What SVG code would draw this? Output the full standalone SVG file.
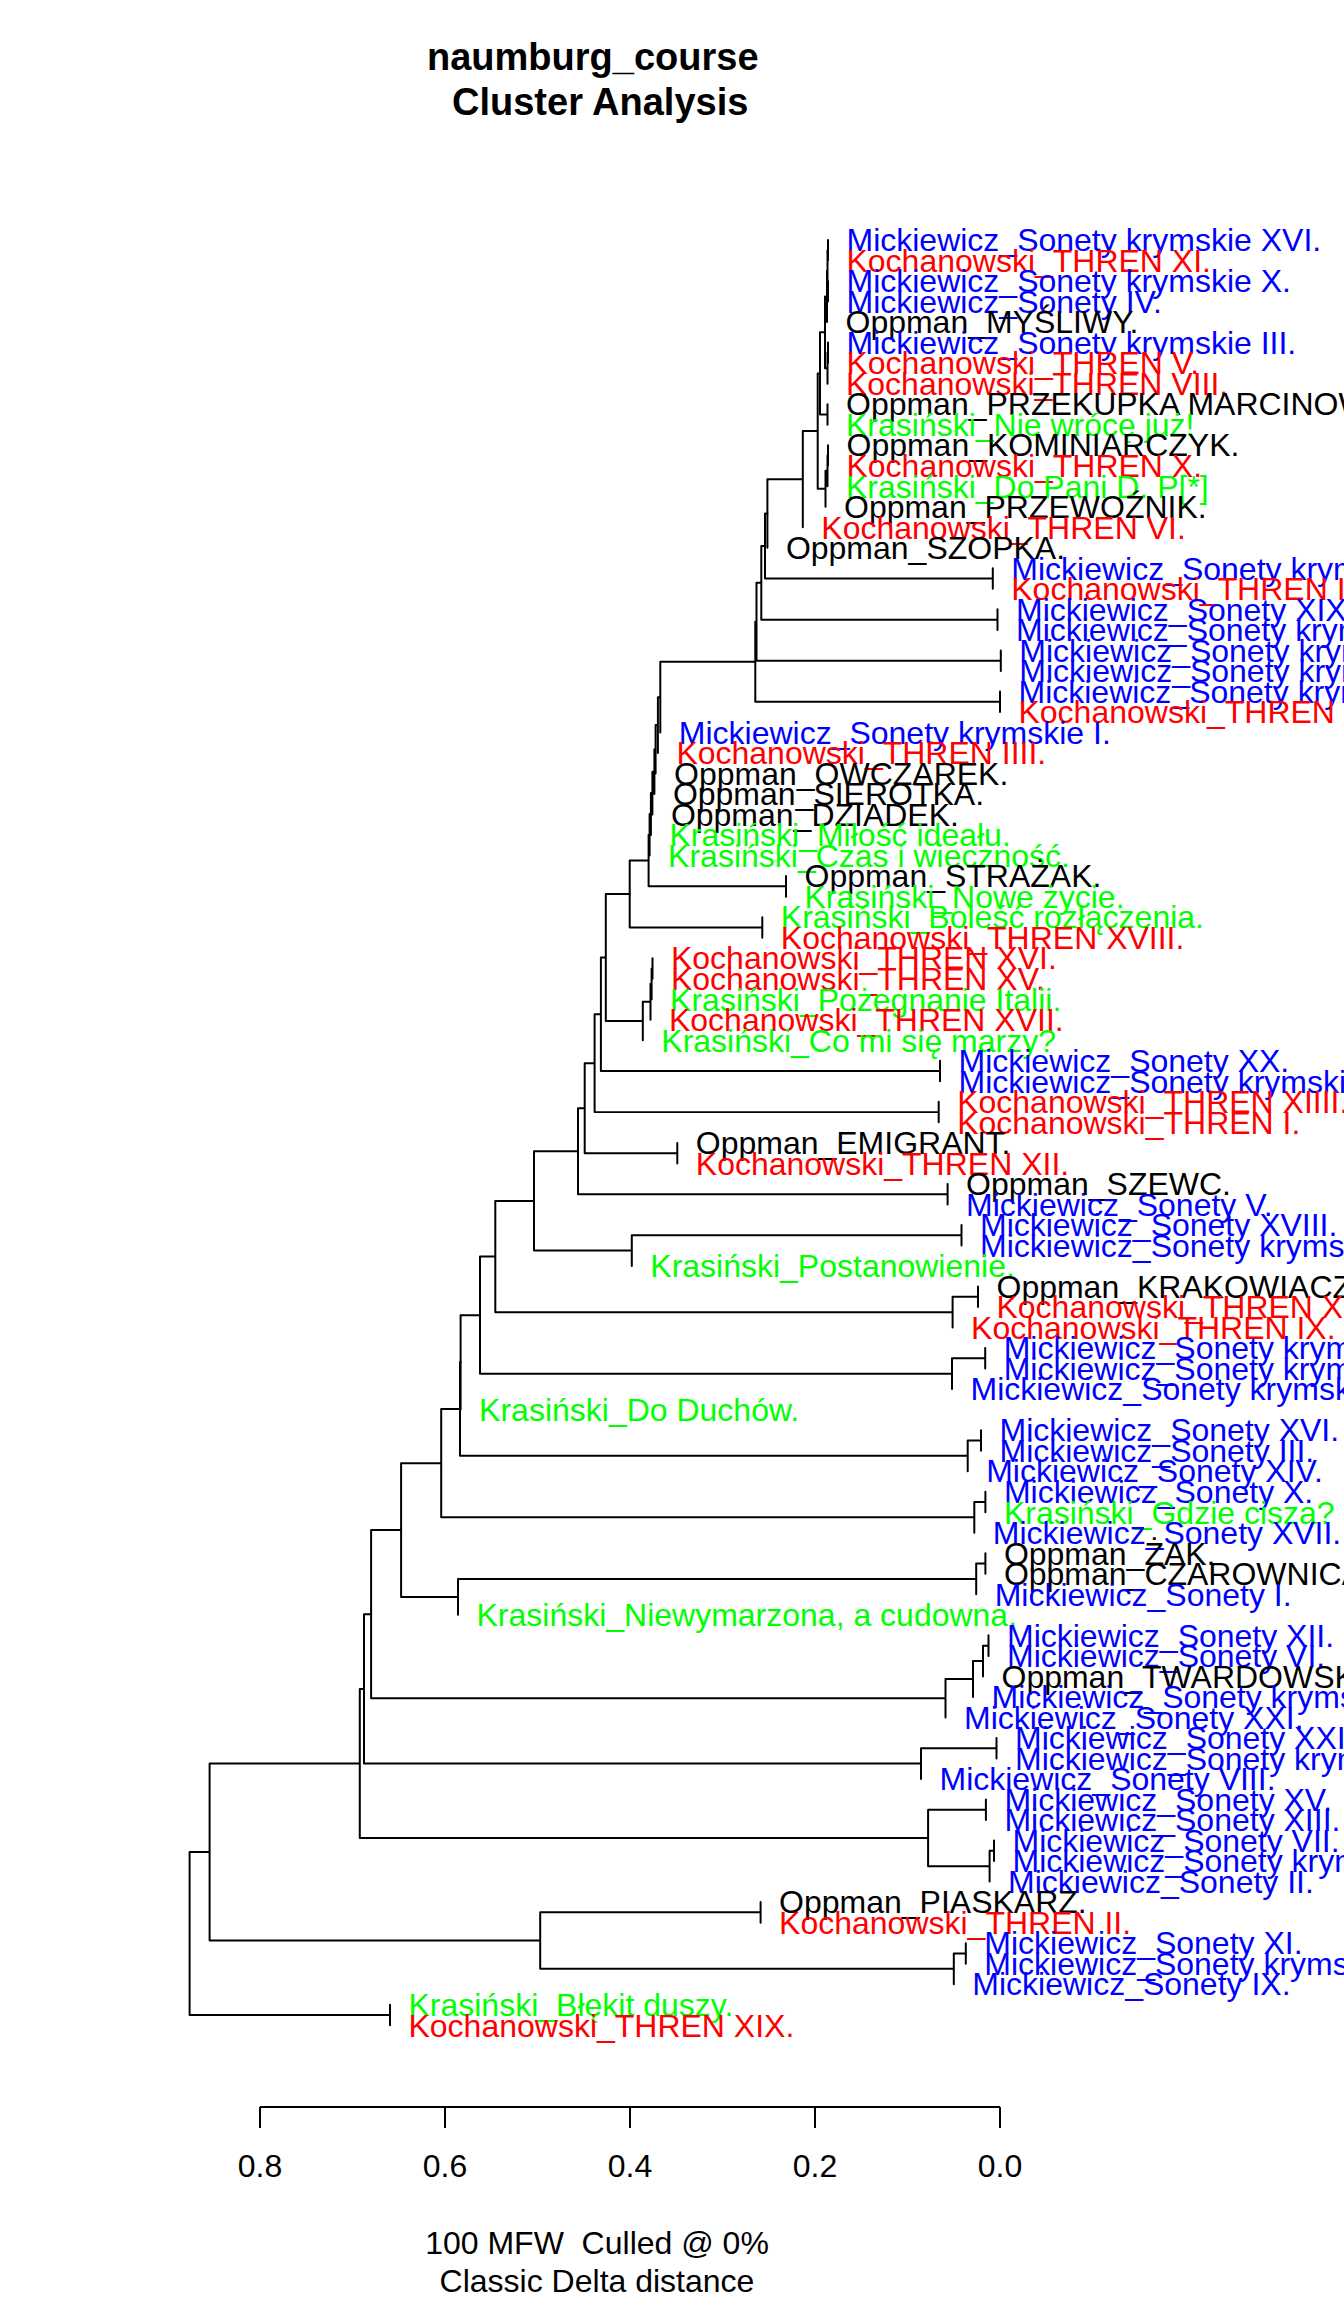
<svg xmlns="http://www.w3.org/2000/svg" width="1344" height="2304" viewBox="0 0 1344 2304">
<style>
text{font-family:"Liberation Sans",Arial,Helvetica,sans-serif;font-size:32px}
.title{font-weight:bold;font-size:38px}
.mk{fill:#0000FF}.ko{fill:#FF0000}.kr{fill:#00FF00}.op{fill:#000000}
.edge{fill:none;stroke:#000;stroke-width:2;stroke-linecap:round}
.ax{fill:none;stroke:#000;stroke-width:2}
</style>
<rect width="1344" height="2304" fill="#fff"/>
<g id="title">
<text class="title" x="427" y="70">naumburg_course</text>
<text class="title" x="452" y="115">Cluster Analysis</text>
</g>
<g id="tree" transform="matrix(1 0 0 0.99854 0 0.35)">
<g id="connectors">
<path class="edge" d="M828,240V260.55 M828,281.1V301.65 M827.5,250.3V291.4 M827.5,250.3H828 M827.5,291.4H828 M827,270.85V322.2 M827,270.85H827.5 M828,342.75V363.3 M827.5,353V383.85 M827.5,353H828 M825,296.5V368.4 M825,296.5H827 M825,368.4H827.5 M827.5,404.4V424.95 M820,332.5V414.7 M820,332.5H825 M820,414.7H827.5 M828,445.5V466.05 M827.5,455.8V486.6 M827.5,455.8H828 M825.5,471.2V507.15 M825.5,471.2H827.5 M817.7,373.6V489.2 M817.7,373.6H820 M817.7,489.2H825.5 M802.8,431.4V527.7 M802.8,431.4H817.7 M767.4,479.55V548.25 M767.4,479.55H802.8"/>
<path class="edge" d="M992.8,568.8V589.35 M765,513.9V579.1 M765,513.9H767.4 M765,579.1H992.8 M997.5,609.9V630.45 M761.3,546.5V620.2 M761.3,546.5H765 M761.3,620.2H997.5 M1000.8,651V671.55 M756.5,583.35V661.3 M756.5,583.35H761.3 M756.5,661.3H1000.8 M1000,692.1V712.65 M755.3,622.3V702.4 M755.3,622.3H756.5 M755.3,702.4H1000"/>
<path class="edge" d="M660.3,662.35V733.2 M660.3,662.35H755.3 M657.9,697.8V753.75 M657.9,697.8H660.3 M655.6,725.8V774.3 M655.6,725.8H657.9 M654.4,750.05V794.85 M654.4,750.05H655.6 M652.4,772.45V815.4 M652.4,772.45H654.4 M650.9,793.9V835.95 M650.9,793.9H652.4 M649.6,814.9V856.5 M649.6,814.9H650.9 M786,877.05V897.6 M648.6,835.7V887.3 M648.6,835.7H649.6 M648.6,887.3H786 M762.3,918.15V938.7 M629.7,861.5V928.4 M629.7,861.5H648.6 M629.7,928.4H762.3"/>
<path class="edge" d="M652.5,959.25V979.8 M651.6,969.5V1000.35 M651.6,969.5H652.5 M650.5,984.9V1020.9 M650.5,984.9H651.6 M642.8,1002.9V1041.45 M642.8,1002.9H650.5 M605.8,894.95V1022.2 M605.8,894.95H629.7 M605.8,1022.2H642.8 M940,1062V1082.55 M600.9,958.6V1072.3 M600.9,958.6H605.8 M600.9,1072.3H940 M938.7,1103.1V1123.65 M594.6,1015.45V1113.4 M594.6,1015.45H600.9 M594.6,1113.4H938.7 M677.3,1144.2V1164.75 M584.7,1064.4V1154.5 M584.7,1064.4H594.6 M584.7,1154.5H677.3 M947.6,1185.3V1205.85 M578,1109.45V1195.6 M578,1109.45H584.7 M578,1195.6H947.6"/>
<path class="edge" d="M961.5,1226.4V1246.95 M631.8,1236.7V1267.5 M631.8,1236.7H961.5 M534,1152.5V1252.1 M534,1152.5H578 M534,1252.1H631.8 M978,1288.05V1308.6 M952.6,1298.3V1329.15 M952.6,1298.3H978 M495.3,1202.3V1313.7 M495.3,1202.3H534 M495.3,1313.7H952.6 M985.2,1349.7V1370.25 M952,1360V1390.8 M952,1360H985.2 M480,1258V1375.4 M480,1258H495.3 M480,1375.4H952 M460.6,1316.7V1411.35 M460.6,1316.7H480"/>
<path class="edge" d="M981,1431.9V1452.45 M967.7,1442.2V1473 M967.7,1442.2H981 M460,1364V1457.6 M460,1364H460.6 M460,1457.6H967.7 M985.4,1493.55V1514.1 M974.3,1503.8V1534.65 M974.3,1503.8H985.4 M441.2,1410.8V1519.2 M441.2,1410.8H460 M441.2,1519.2H974.3 M985.4,1555.2V1575.75 M976.2,1565.5V1596.3 M976.2,1565.5H985.4 M458,1580.9V1616.85 M458,1580.9H976.2 M401.1,1465V1598.9 M401.1,1465H441.2 M401.1,1598.9H458"/>
<path class="edge" d="M988.5,1637.4V1657.95 M983,1647.7V1678.5 M983,1647.7H988.5 M973,1663.1V1699.05 M973,1663.1H983 M945.5,1681.1V1719.6 M945.5,1681.1H973 M371.1,1531.95V1700.35 M371.1,1531.95H401.1 M371.1,1700.35H945.5 M996.5,1740.15V1760.7 M921,1750.4V1781.25 M921,1750.4H996.5 M364,1616.15V1765.8 M364,1616.15H371.1 M364,1765.8H921"/>
<path class="edge" d="M985.9,1801.8V1822.35 M994,1842.9V1863.45 M989.6,1853.2V1884 M989.6,1853.2H994 M928.1,1812.1V1868.6 M928.1,1812.1H985.9 M928.1,1868.6H989.6 M359.8,1691V1840.35 M359.8,1691H364 M359.8,1840.35H928.1 M760.6,1904.55V1925.1 M965.8,1945.65V1966.2 M953.8,1955.9V1986.75 M953.8,1955.9H965.8 M540.2,1914.8V1971.3 M540.2,1914.8H760.6 M540.2,1971.3H953.8 M209.6,1765.7V1943.05 M209.6,1765.7H359.8 M209.6,1943.05H540.2 M390,2007.3V2027.85 M189.6,1854.4V2017.6 M189.6,1854.4H209.6 M189.6,2017.6H390"/>
</g>
<g id="leaves">
<g id="leaf01"><text class="mk" x="846.5" y="251.3">Mickiewicz_Sonety krymskie XVI.</text></g>
<g id="leaf02"><text class="ko" x="846.5" y="271.85">Kochanowski_THREN XI.</text></g>
<g id="leaf03"><text class="mk" x="846.5" y="292.4">Mickiewicz_Sonety krymskie X.</text></g>
<g id="leaf04"><text class="mk" x="846.5" y="312.95">Mickiewicz_Sonety IV.</text></g>
<g id="leaf05"><text class="op" x="845.5" y="333.5">Oppman_MYŚLIWY.</text></g>
<g id="leaf06"><text class="mk" x="846.5" y="354.05">Mickiewicz_Sonety krymskie III.</text></g>
<g id="leaf07"><text class="ko" x="846.5" y="374.6">Kochanowski_THREN V.</text></g>
<g id="leaf08"><text class="ko" x="846" y="395.15">Kochanowski_THREN VIII.</text></g>
<g id="leaf09"><text class="op" x="846" y="415.7">Oppman_PRZEKUPKA MARCINOWA.</text></g>
<g id="leaf10"><text class="kr" x="846" y="436.25">Krasiński_Nie wrócę już!</text></g>
<g id="leaf11"><text class="op" x="846.5" y="456.8">Oppman_KOMINIARCZYK.</text></g>
<g id="leaf12"><text class="ko" x="846.5" y="477.35">Kochanowski_THREN X.</text></g>
<g id="leaf13"><text class="kr" x="846" y="497.9">Krasiński_Do Pani D. P[*]</text></g>
<g id="leaf14"><text class="op" x="844" y="518.45">Oppman_PRZEWOŹNIK.</text></g>
<g id="leaf15"><text class="ko" x="821.3" y="539">Kochanowski_THREN VI.</text></g>
<g id="leaf16"><text class="op" x="785.9" y="559.55">Oppman_SZOPKA.</text></g>
<g id="leaf17"><text class="mk" x="1011.3" y="580.1">Mickiewicz_Sonety krymskie II.</text></g>
<g id="leaf18"><text class="ko" x="1011.3" y="600.65">Kochanowski_THREN III.</text></g>
<g id="leaf19"><text class="mk" x="1016" y="621.2">Mickiewicz_Sonety XIX.</text></g>
<g id="leaf20"><text class="mk" x="1016" y="641.75">Mickiewicz_Sonety krymskie IV.</text></g>
<g id="leaf21"><text class="mk" x="1019.3" y="662.3">Mickiewicz_Sonety krymskie V.</text></g>
<g id="leaf22"><text class="mk" x="1019.3" y="682.85">Mickiewicz_Sonety krymskie VI.</text></g>
<g id="leaf23"><text class="mk" x="1018.5" y="703.4">Mickiewicz_Sonety krymskie VII.</text></g>
<g id="leaf24"><text class="ko" x="1018.5" y="723.95">Kochanowski_THREN VII.</text></g>
<g id="leaf25"><text class="mk" x="678.8" y="744.5">Mickiewicz_Sonety krymskie I.</text></g>
<g id="leaf26"><text class="ko" x="676.4" y="765.05">Kochanowski_THREN IIII.</text></g>
<g id="leaf27"><text class="op" x="674.1" y="785.6">Oppman_OWCZAREK.</text></g>
<g id="leaf28"><text class="op" x="672.9" y="806.15">Oppman_SIEROTKA.</text></g>
<g id="leaf29"><text class="op" x="670.9" y="826.7">Oppman_DZIADEK.</text></g>
<g id="leaf30"><text class="kr" x="669.4" y="847.25">Krasiński_Miłość ideału.</text></g>
<g id="leaf31"><text class="kr" x="668.1" y="867.8">Krasiński_Czas i wieczność.</text></g>
<g id="leaf32"><text class="op" x="804.5" y="888.35">Oppman_STRAŻAK.</text></g>
<g id="leaf33"><text class="kr" x="804.5" y="908.9">Krasiński_Nowe życie.</text></g>
<g id="leaf34"><text class="kr" x="780.8" y="929.45">Krasiński_Boleść rozłączenia.</text></g>
<g id="leaf35"><text class="ko" x="780.8" y="950">Kochanowski_THREN XVIII.</text></g>
<g id="leaf36"><text class="ko" x="671" y="970.55">Kochanowski_THREN XVI.</text></g>
<g id="leaf37"><text class="ko" x="671" y="991.1">Kochanowski_THREN XV.</text></g>
<g id="leaf38"><text class="kr" x="670.1" y="1011.65">Krasiński_Pożegnanie Italii.</text></g>
<g id="leaf39"><text class="ko" x="669" y="1032.2">Kochanowski_THREN XVII.</text></g>
<g id="leaf40"><text class="kr" x="661.3" y="1052.75">Krasiński_Co mi się marzy?</text></g>
<g id="leaf41"><text class="mk" x="958.5" y="1073.3">Mickiewicz_Sonety XX.</text></g>
<g id="leaf42"><text class="mk" x="958.5" y="1093.85">Mickiewicz_Sonety krymskie VIII.</text></g>
<g id="leaf43"><text class="ko" x="957.2" y="1114.4">Kochanowski_THREN XIIII.</text></g>
<g id="leaf44"><text class="ko" x="957.2" y="1134.95">Kochanowski_THREN I.</text></g>
<g id="leaf45"><text class="op" x="695.8" y="1155.5">Oppman_EMIGRANT.</text></g>
<g id="leaf46"><text class="ko" x="695.8" y="1176.05">Kochanowski_THREN XII.</text></g>
<g id="leaf47"><text class="op" x="966.1" y="1196.6">Oppman_SZEWC.</text></g>
<g id="leaf48"><text class="mk" x="966.1" y="1217.15">Mickiewicz_Sonety V.</text></g>
<g id="leaf49"><text class="mk" x="980" y="1237.7">Mickiewicz_Sonety XVIII.</text></g>
<g id="leaf50"><text class="mk" x="980" y="1258.25">Mickiewicz_Sonety krymskie IX.</text></g>
<g id="leaf51"><text class="kr" x="650.3" y="1278.8">Krasiński_Postanowienie.</text></g>
<g id="leaf52"><text class="op" x="996.5" y="1299.35">Oppman_KRAKOWIACZEK.</text></g>
<g id="leaf53"><text class="ko" x="996.5" y="1319.9">Kochanowski_THREN XIII.</text></g>
<g id="leaf54"><text class="ko" x="971.1" y="1340.45">Kochanowski_THREN IX.</text></g>
<g id="leaf55"><text class="mk" x="1003.7" y="1361">Mickiewicz_Sonety krymskie XI.</text></g>
<g id="leaf56"><text class="mk" x="1003.7" y="1381.55">Mickiewicz_Sonety krymskie XII.</text></g>
<g id="leaf57"><text class="mk" x="970.5" y="1402.1">Mickiewicz_Sonety krymskie XIII.</text></g>
<g id="leaf58"><text class="kr" x="479.1" y="1422.65">Krasiński_Do Duchów.</text></g>
<g id="leaf59"><text class="mk" x="999.5" y="1443.2">Mickiewicz_Sonety XVI.</text></g>
<g id="leaf60"><text class="mk" x="999.5" y="1463.75">Mickiewicz_Sonety III.</text></g>
<g id="leaf61"><text class="mk" x="986.2" y="1484.3">Mickiewicz_Sonety XIV.</text></g>
<g id="leaf62"><text class="mk" x="1003.9" y="1504.85">Mickiewicz_Sonety X.</text></g>
<g id="leaf63"><text class="kr" x="1003.9" y="1525.4">Krasiński_Gdzie cisza?</text></g>
<g id="leaf64"><text class="mk" x="992.8" y="1545.95">Mickiewicz_Sonety XVII.</text></g>
<g id="leaf65"><text class="op" x="1003.9" y="1566.5">Oppman_ŻAK.</text></g>
<g id="leaf66"><text class="op" x="1003.9" y="1587.05">Oppman_CZAROWNICA.</text></g>
<g id="leaf67"><text class="mk" x="994.7" y="1607.6">Mickiewicz_Sonety I.</text></g>
<g id="leaf68"><text class="kr" x="476.5" y="1628.15">Krasiński_Niewymarzona, a cudowna.</text></g>
<g id="leaf69"><text class="mk" x="1007" y="1648.7">Mickiewicz_Sonety XII.</text></g>
<g id="leaf70"><text class="mk" x="1007" y="1669.25">Mickiewicz_Sonety VI.</text></g>
<g id="leaf71"><text class="op" x="1001.5" y="1689.8">Oppman_TWARDOWSKI.</text></g>
<g id="leaf72"><text class="mk" x="991.5" y="1710.35">Mickiewicz_Sonety krymskie XIV.</text></g>
<g id="leaf73"><text class="mk" x="964" y="1730.9">Mickiewicz_Sonety XXI.</text></g>
<g id="leaf74"><text class="mk" x="1015" y="1751.45">Mickiewicz_Sonety XXII.</text></g>
<g id="leaf75"><text class="mk" x="1015" y="1772">Mickiewicz_Sonety krymskie XV.</text></g>
<g id="leaf76"><text class="mk" x="939.5" y="1792.55">Mickiewicz_Sonety VIII.</text></g>
<g id="leaf77"><text class="mk" x="1004.4" y="1813.1">Mickiewicz_Sonety XV.</text></g>
<g id="leaf78"><text class="mk" x="1004.4" y="1833.65">Mickiewicz_Sonety XIII.</text></g>
<g id="leaf79"><text class="mk" x="1012.5" y="1854.2">Mickiewicz_Sonety VII.</text></g>
<g id="leaf80"><text class="mk" x="1012.5" y="1874.75">Mickiewicz_Sonety krymskie XVII.</text></g>
<g id="leaf81"><text class="mk" x="1008.1" y="1895.3">Mickiewicz_Sonety II.</text></g>
<g id="leaf82"><text class="op" x="779.1" y="1915.85">Oppman_PIASKARZ.</text></g>
<g id="leaf83"><text class="ko" x="779.1" y="1936.4">Kochanowski_THREN II.</text></g>
<g id="leaf84"><text class="mk" x="984.3" y="1956.95">Mickiewicz_Sonety XI.</text></g>
<g id="leaf85"><text class="mk" x="984.3" y="1977.5">Mickiewicz_Sonety krymskie XVIII.</text></g>
<g id="leaf86"><text class="mk" x="972.3" y="1998.05">Mickiewicz_Sonety IX.</text></g>
<g id="leaf87"><text class="kr" x="408.5" y="2018.6">Krasiński_Błękit duszy.</text></g>
<g id="leaf88"><text class="ko" x="408.5" y="2039.15">Kochanowski_THREN XIX.</text></g>
</g>
</g>
<g id="axis">
<path class="ax" d="M260,2107H1000 M260,2107V2128 M445,2107V2128 M630,2107V2128 M815,2107V2128 M1000,2107V2128"/>
<text x="260" y="2177" text-anchor="middle">0.8</text>
<text x="445" y="2177" text-anchor="middle">0.6</text>
<text x="630" y="2177" text-anchor="middle">0.4</text>
<text x="815" y="2177" text-anchor="middle">0.2</text>
<text x="1000" y="2177" text-anchor="middle">0.0</text>
</g>
<g id="subtitle">
<text x="597" y="2254" text-anchor="middle" xml:space="preserve">100 MFW  Culled @ 0%</text>
<text x="597" y="2292" text-anchor="middle">Classic Delta distance</text>
</g>
</svg>
